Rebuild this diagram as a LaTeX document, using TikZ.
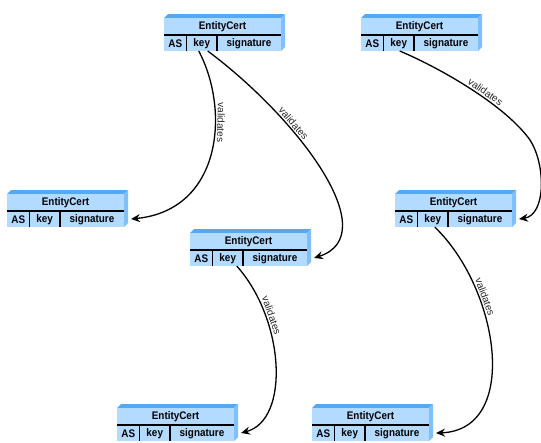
\documentclass[tikz,border=0pt]{standalone}
\usepackage{fontspec}
\setmainfont{Liberation Sans}
\newfontfamily\boxfont{Liberation Sans}[FakeStretch=0.9]
\newfontfamily\labfont{Liberation Sans}
\usetikzlibrary{arrows.meta,calc}
\definecolor{frontblue}{HTML}{B3DAFF}
\definecolor{topblue}{HTML}{55A8F2}
\definecolor{sideblue}{HTML}{80C0FA}
\definecolor{labgray}{HTML}{262626}
\tikzset{
  front/.style={fill=frontblue, draw=none, minimum width=117pt, minimum height=33pt, inner sep=0pt, anchor=north west},
  bevel/.style={fill=topblue},
  sideface/.style={fill=sideblue},
  divider/.style={draw=black, line width=1.2pt},
  boxtext/.style={font=\boxfont\bfseries\fontsize{11}{13}\selectfont, inner sep=0pt, text=black},
  link/.style={draw=black, line width=1.3pt, -{Stealth[length=9pt,width=8pt,inset=3pt]}},
  lab/.style={font=\labfont\fontsize{10}{12}\selectfont, text=labgray, sloped, allow upside down, above, inner sep=1.5pt},
}
\newcommand\certbox[3]{%
  \begin{scope}[shift={(#2,#3)}]
    \fill[bevel] (0,0) -- (4,-4) -- (121,-4) -- (117,0) -- cycle;
    \fill[sideface] (117,0) -- (121,-4) -- (121,29) -- (117,33) -- cycle;
    \node[front] (#1) at (0,0) {};
    \draw[divider] (0,17) -- (117,17);
    \draw[divider] (22.5,17) -- (22.5,33);
    \draw[divider] (53,17) -- (53,33);
    \node[boxtext] (#1-t) at (58.5,9) {EntityCert};
    \node[boxtext] (#1-a) at (11.25,25.5) {AS};
    \node[boxtext] (#1-k) at (37.75,25.5) {key};
    \node[boxtext] (#1-s) at (85,25.5) {signature};
    \coordinate (#1-kb) at (37.75,33);
    \coordinate (#1-in) at (124,25);
  \end{scope}}
\begin{document}
\begin{tikzpicture}[x=1pt,y=-1pt]
  \useasboundingbox (0,0) rectangle (541,442);
  \certbox{A}{164}{18}
  \certbox{B}{361}{18}
  \certbox{C}{7}{194}
  \certbox{D}{190}{233}
  \certbox{E}{395}{194}
  \certbox{F}{117}{408}
  \certbox{G}{312}{408}
  % connectors
  \draw[link] ([xshift=-3pt]A-kb) .. controls (230,110) and (222,210) .. (C-in)
      node[lab, pos=0.35] {validates};
  \draw[link] ([xshift=6pt]A-kb) .. controls (300,120) and (385,235) .. (D-in)
      node[lab, pos=0.32] {validates};
  \draw[link] ([xshift=1pt]B-kb) .. controls (440,68) and (505,105) .. (530,140)
      node[lab, pos=0.58] {validates}
      .. controls (546,165) and (546,215) .. (E-in);
  \draw[link] ([xshift=9pt]D-kb) .. controls (285,320) and (290,420) .. (F-in)
      node[lab, pos=0.27] {validates};
  \draw[link] ([xshift=2pt]E-kb) .. controls (500,290) and (520,430) .. (G-in)
      node[lab, pos=0.3] {validates};
\end{tikzpicture}
\end{document}
